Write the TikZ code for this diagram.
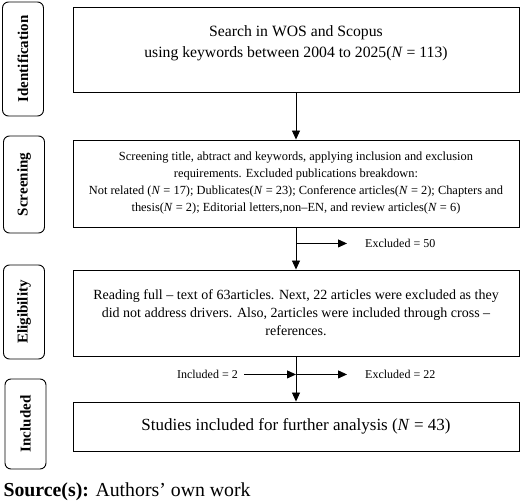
\documentclass[tikz,border=0pt]{standalone}
\usepackage{fontspec}
\setmainfont{Liberation Serif}
\usetikzlibrary{arrows.meta,positioning}

\newcommand{\nn}{\textit{N}}

\begin{document}
\begin{tikzpicture}[x=1pt,y=-1pt,
    stage/.style={draw,rounded corners=6pt,line width=0.9pt,rotate=90,
      minimum height=41pt,inner sep=0pt,font=\bfseries\fontsize{15}{17}\selectfont},
    box/.style={draw,line width=0.9pt,minimum width=446pt,align=center,inner sep=4pt},
    note/.style={inner sep=0pt,font=\fontsize{12}{14}\selectfont},
    arr/.style={-{Triangle[length=9pt,width=8pt]},line width=0.9pt}]
    \useasboundingbox (0,0) rectangle (520,502);
    % phase labels
    \node[stage,minimum width=114pt] (identlbl) at (23,59) {Identification};
    \node[stage,minimum width=97pt] (screenlbl) at (24,184.5) {Screening};
    \node[stage,minimum width=94pt] (eliglbl) at (24,312) {Eligibility};
    \node[stage,minimum width=90pt] (incllbl) at (25.5,424) {Included};
    % flow boxes
    \node[box,minimum height=85pt,font=\fontsize{15.7}{21}\selectfont] (search) at (296,49.5)
      {Search in WOS and Scopus\\using keywords between 2004 to 2025(\nn{} = 113)\\[-6pt]};
    \node[box,minimum height=87pt,font=\fontsize{12.4}{17}\selectfont] (screen) at (296,183.5)
      {Screening title, abtract and keywords, applying inclusion and exclusion\\
       requirements. Excluded publications breakdown:\\
       Not related (\nn{} = 17); Dublicates(\nn{} = 23); Conference articles(\nn{} = 2); Chapters and\\
       thesis(\nn{} = 2); Editorial letters,non--EN, and review articles(\nn{} = 6)};
    \node[box,minimum height=86pt,font=\fontsize{14}{18}\selectfont] (full) at (296,313)
      {Reading full -- text of 63articles. Next, 22 articles were excluded as they\\
       did not address drivers. Also, 2articles were included through cross --\\
       references.};
    \node[box,minimum height=49pt,font=\fontsize{17}{19}\selectfont] (final) at (296,426.5)
      {Studies included for further analysis (\nn{} = 43)};
    % split points and side notes
    \coordinate[below=16pt of screen.south] (split1);
    \coordinate[below=18pt of full.south] (split2);
    \node[note,right=69pt of split1] (excl1) {Excluded = 50};
    \node[note,right=69pt of split2] (excl2) {Excluded = 22};
    \node[note,left=58pt of split2] (incl2) {Included = 2};
    % connectors
    \draw[arr] (search) -- (screen);
    \draw[arr] (screen) -- (full);
    \draw[arr] (full) -- (final);
    \draw[arr,shorten >=18pt] (split1) -- (excl1);
    \draw[arr,shorten >=18pt] (split2) -- (excl2);
    \draw[arr,shorten <=6pt] (incl2) -- (split2);
    \node[anchor=base west,font=\fontsize{19.8}{21}\selectfont] (source) at (0,497)
      {\textbf{Source(s):} Authors' own work};
\end{tikzpicture}
\end{document}
